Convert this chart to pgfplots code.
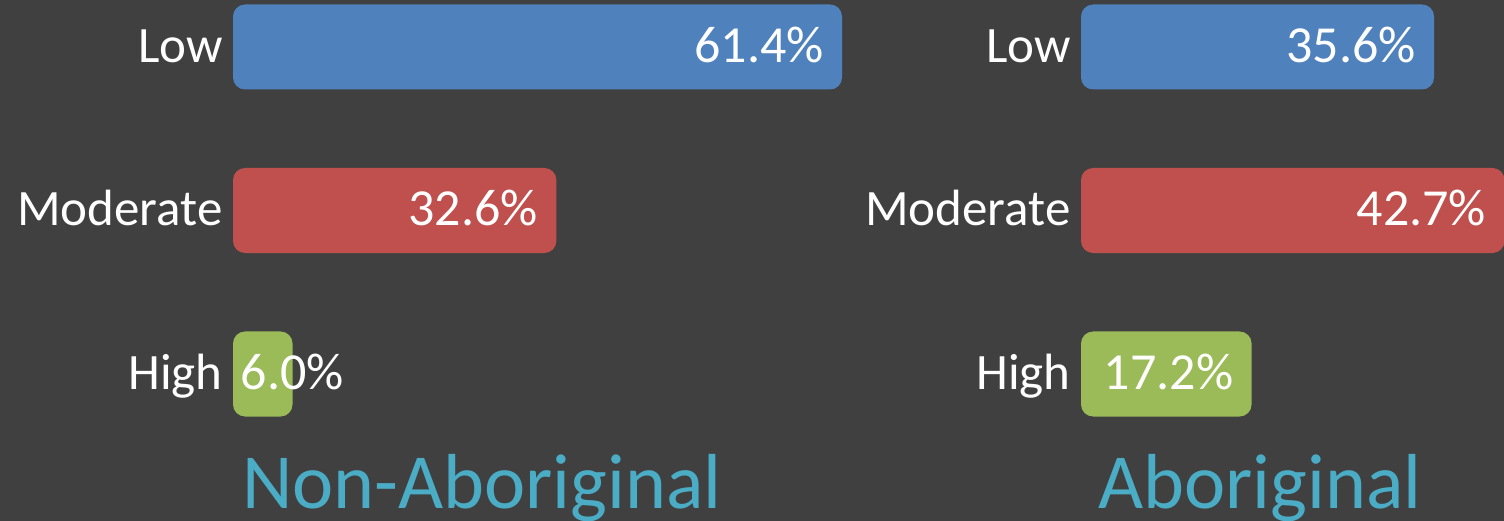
\documentclass[border=0pt]{standalone}
\usepackage{pgfplots}
\pgfplotsset{compat=1.18}
\usepackage{fontspec}
\setmainfont{Carlito}
\definecolor{bg}{HTML}{404040}
\definecolor{cblue}{HTML}{4F81BD}
\definecolor{cred}{HTML}{C0504D}
\definecolor{cgreen}{HTML}{9BBB59}
\definecolor{cteal}{HTML}{4BACC6}
\pgfplotsset{
  panel/.style={
    scale only axis, clip=false,
    height=245.25bp,
    ymin=-0.5, ymax=2.5,
    axis line style={draw=none},
    xtick=\empty,
    ytick={0,1,2}, yticklabels={High,Moderate,Low},
    ytick style={draw=none}, major tick length=0pt,
    yticklabel style={font=\fontsize{25.5bp}{30bp}\selectfont, text=white,
      inner sep=0pt, xshift=-5bp, yshift=-4.5bp, text height=0.644em, text depth=0pt},
    /pgf/number format/assume math mode=true,
    point meta=x,
  },
  barbase/.style={xbar, bar shift=0pt, bar width=42.5bp, draw=none, fill=#1,
    rounded corners=6bp,
    nodes near coords={\pgfmathprintnumber[fixed,fixed zerofill,precision=1]{\pgfplotspointmeta}\%}},
  mybar/.style={barbase=#1,
    every node near coord/.style={font=\fontsize{26bp}{30bp}\selectfont, text=white,
      anchor=east, inner sep=0pt, xshift=-9bp, yshift=-4.5bp, text height=0.644em, text depth=0pt}},
  outbar/.style={barbase=#1,
    every node near coord/.style={font=\fontsize{26bp}{30bp}\selectfont, text=white,
      anchor=west, inner sep=0pt, xshift=-26bp, yshift=-4.5bp, text height=0.644em, text depth=0pt}},
}
\begin{document}
\begin{tikzpicture}
\fill[bg, use as bounding box] (0,0) rectangle (752bp,260.5bp);
% Non-Aboriginal
\begin{axis}[panel, at={(116.5bp,32.625bp)}, anchor=south west,
  xmin=0, xmax=62, width=307.5bp]
\addplot[mybar=cblue] coordinates {(61.4,2)};
\addplot[mybar=cred] coordinates {(32.6,1)};
\addplot[outbar=cgreen] coordinates {(6.0,0)};
\end{axis}
% Aboriginal
\begin{axis}[panel, at={(540.5bp,32.625bp)}, anchor=south west,
  xmin=0, xmax=44, width=218.2bp]
\addplot[mybar=cblue] coordinates {(35.6,2)};
\addplot[mybar=cred] coordinates {(42.7,1)};
\addplot[mybar=cgreen] coordinates {(17.2,0)};
\end{axis}
\node[anchor=base, text=cteal, font=\fontsize{39bp}{45bp}\selectfont, inner sep=0pt] at (241bp,6.5bp) {Non-Aboriginal};
\node[anchor=base, text=cteal, font=\fontsize{39bp}{45bp}\selectfont, inner sep=0pt] at (630bp,6.5bp) {Aboriginal};
\end{tikzpicture}
\end{document}
